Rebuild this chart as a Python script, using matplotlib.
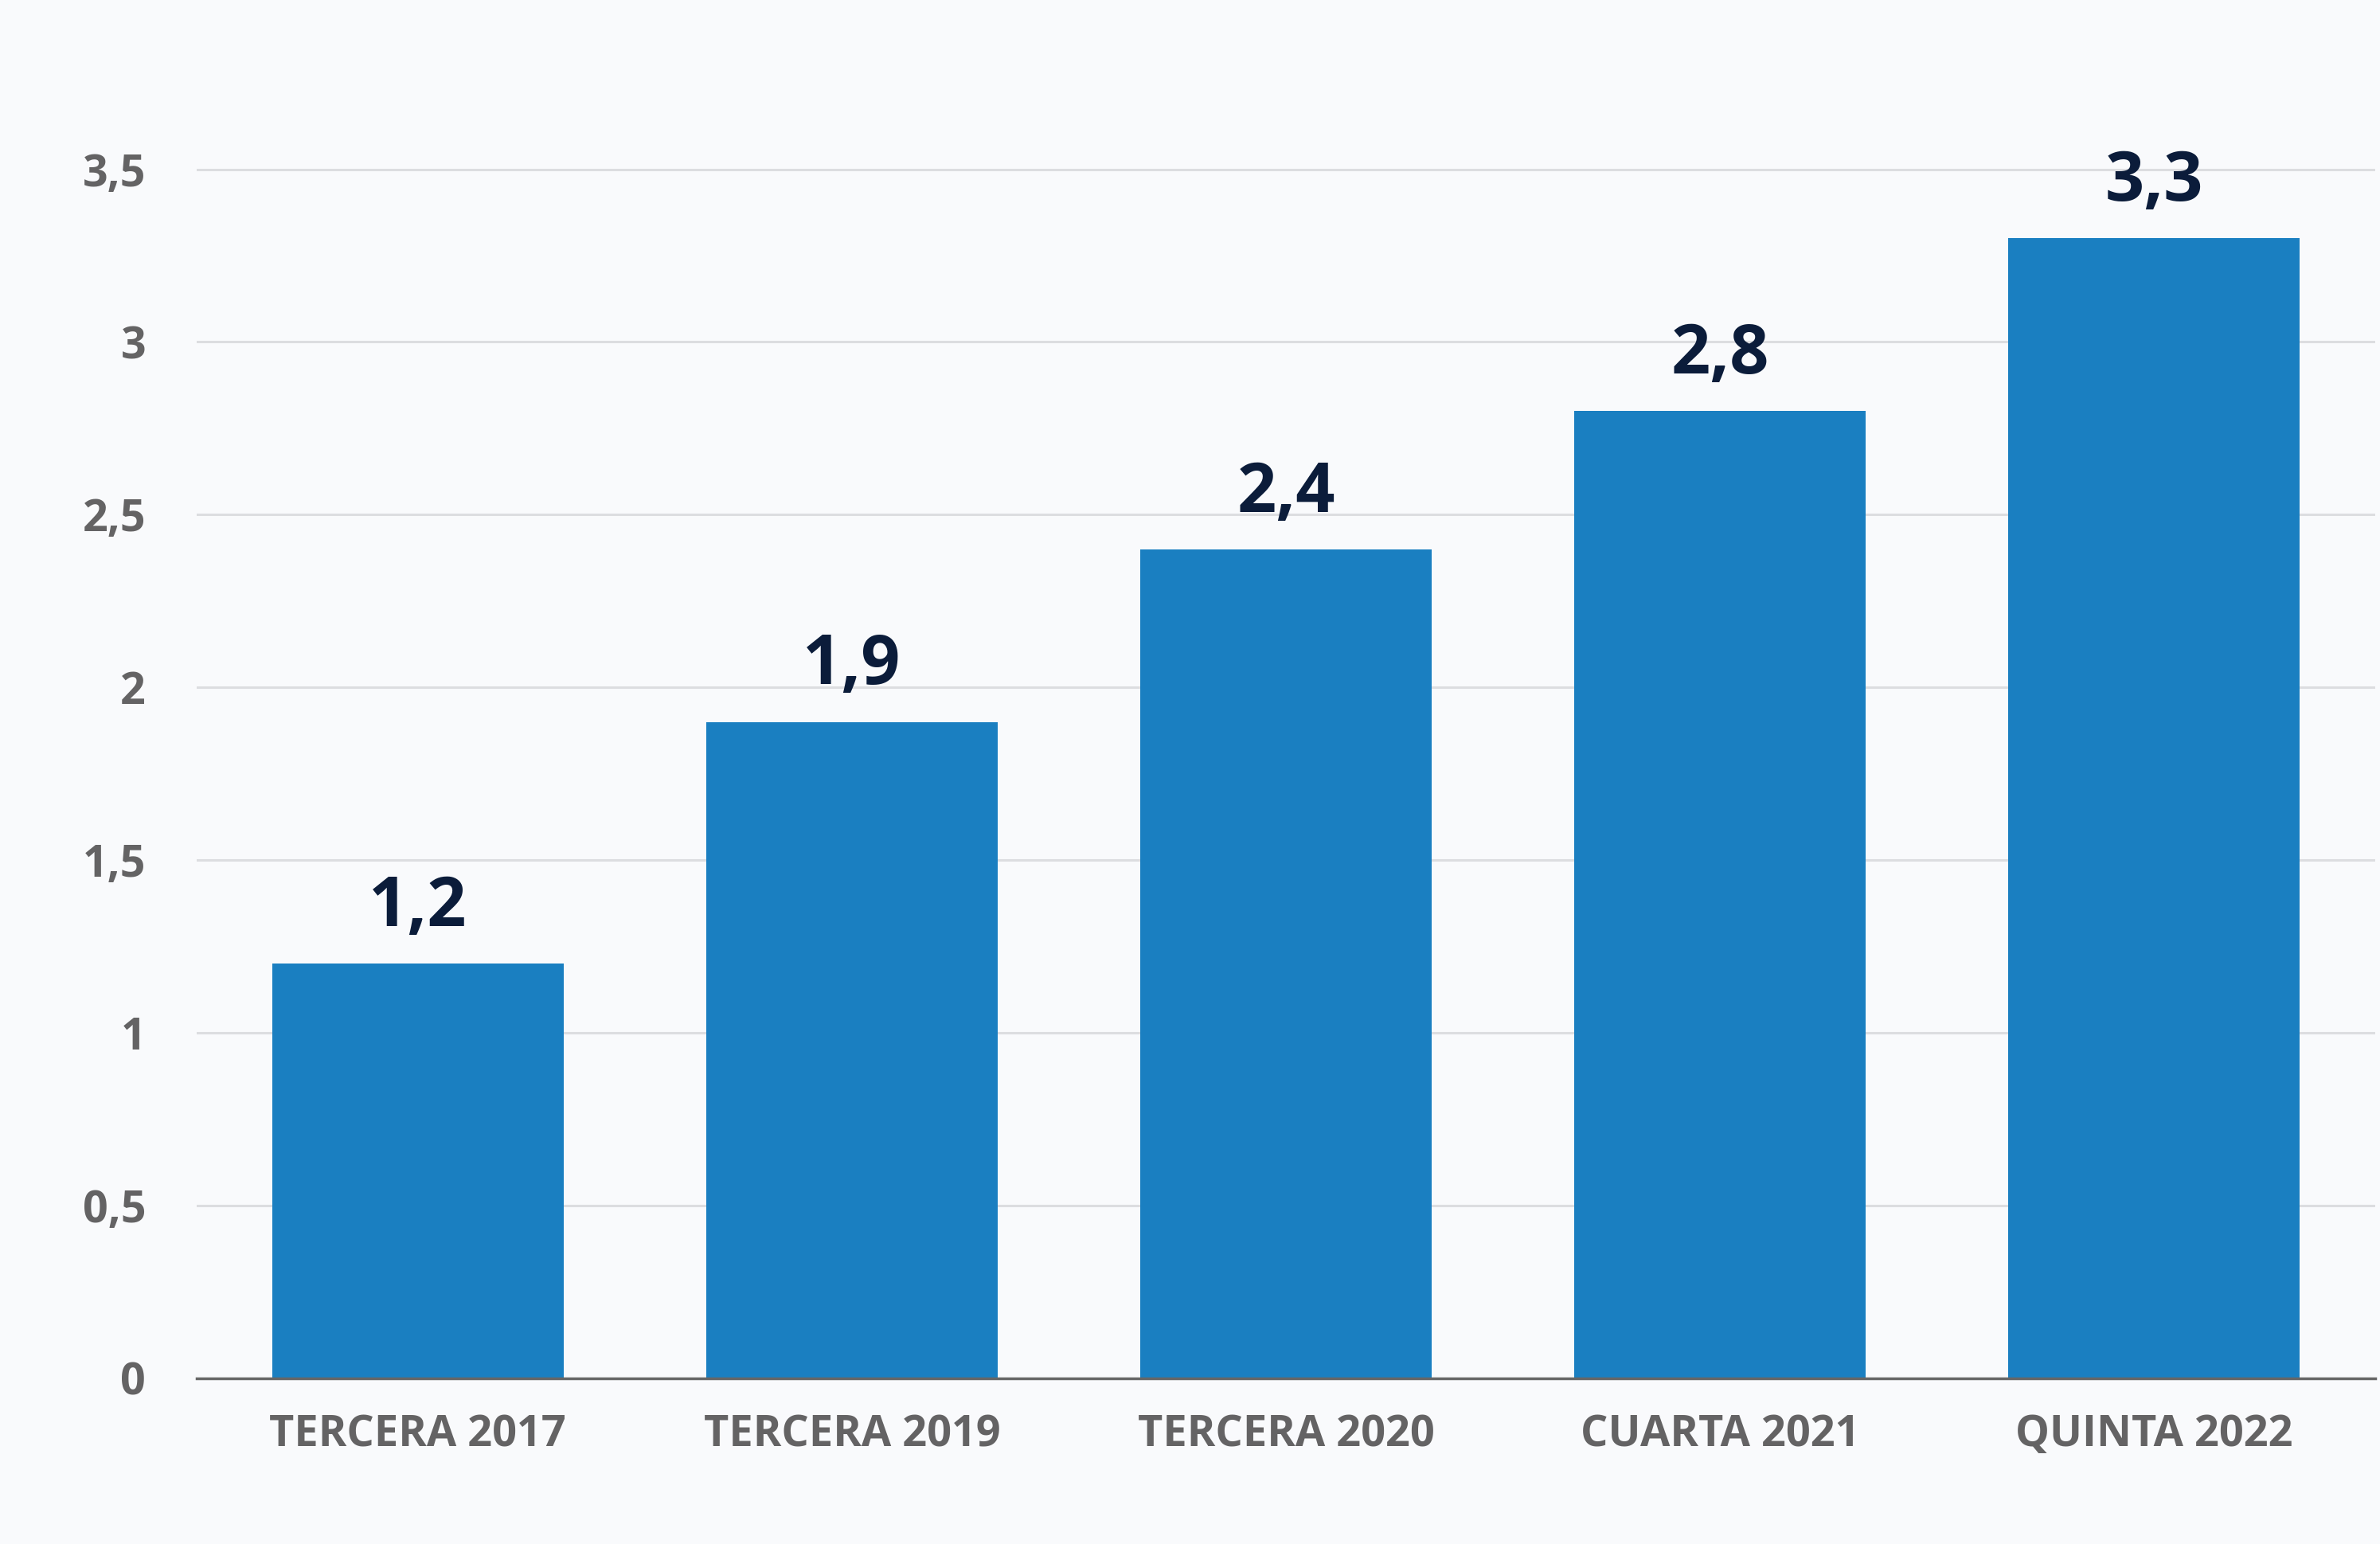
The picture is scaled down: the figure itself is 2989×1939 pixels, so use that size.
import matplotlib
matplotlib.use("Agg")
import matplotlib.pyplot as plt
from matplotlib.ticker import FuncFormatter

# data
categories = ["TERCERA 2017", "TERCERA 2019", "TERCERA 2020", "CUARTA 2021", "QUINTA 2022"]
values = [1.2, 1.9, 2.4, 2.8, 3.3]
yticks = [0, 0.5, 1, 1.5, 2, 2.5, 3, 3.5]

bg = "#f9fafc"
bar_color = "#1a7fc1"
label_color = "#0b1c3a"
tick_color = "#646364"

plt.rcParams["font.family"] = ["Open Sans", "DejaVu Sans"]

fig = plt.figure(figsize=(29.89, 19.39), dpi=100)
fig.patch.set_facecolor(bg)
ax = fig.add_axes([0.0826, 0.1073, 0.9154, 0.839])
ax.set_facecolor(bg)

x = list(range(len(categories)))
ax.bar(x, values, width=0.672, color=bar_color, zorder=3)

for xi, v in zip(x, values):
    ax.annotate(f"{v:.1f}".replace(".", ","), (xi, v), xytext=(0, 34),
                textcoords="offset points", ha="center", va="baseline",
                fontsize=62, fontweight="bold", color=label_color, zorder=4)

ax.set_xlim(-0.51, 4.51)
ax.set_ylim(0, 3.75)
ax.set_yticks(yticks)
ax.yaxis.set_major_formatter(FuncFormatter(lambda v, _: f"{v:g}".replace(".", ",")))
ax.set_xticks(x)
ax.set_xticklabels(categories)

ax.grid(axis="y", color="#dcdde0", linewidth=2.2, zorder=0)
ax.grid(axis="x", visible=False)
for side in ["top", "right", "left"]:
    ax.spines[side].set_visible(False)
ax.spines["bottom"].set_color("#666666")
ax.spines["bottom"].set_linewidth(2.5)
ax.spines["bottom"].set_zorder(5)

ax.tick_params(axis="y", length=0, pad=46, labelsize=40, labelcolor=tick_color)
ax.tick_params(axis="x", length=0, pad=32, labelsize=39, labelcolor=tick_color)
for lbl in ax.get_xticklabels() + ax.get_yticklabels():
    lbl.set_fontweight("bold")

fig.savefig("out.png", dpi=100, facecolor=bg)
